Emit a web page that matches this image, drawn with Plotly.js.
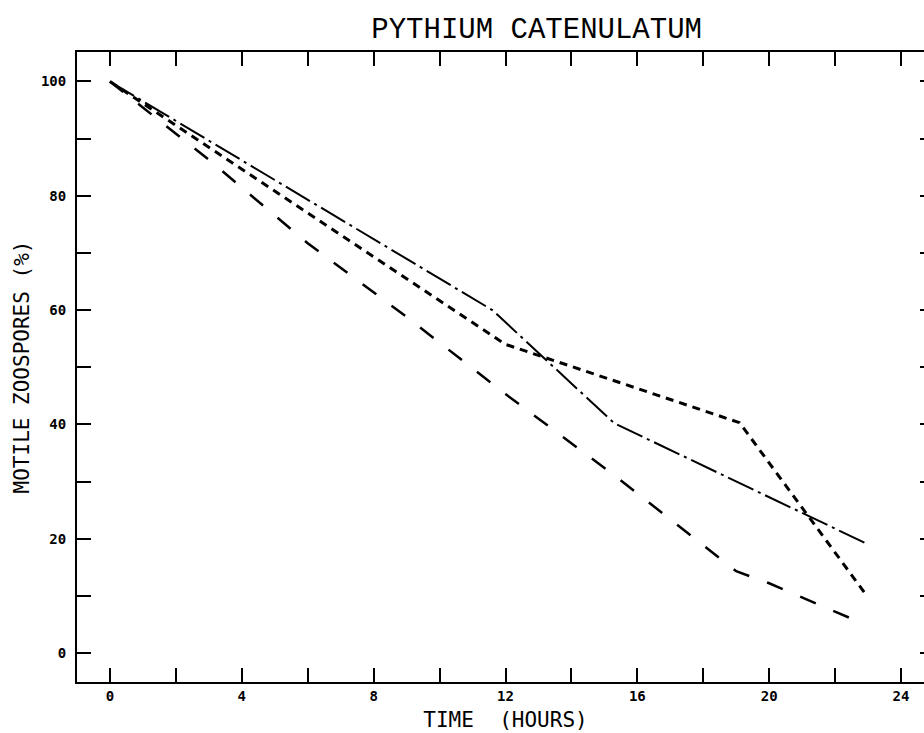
<!DOCTYPE html>
<html>
<head>
<meta charset="utf-8">
<script src="https://cdn.plot.ly/plotly-3.0.1.min.js"></script>
<style>
  html, body { margin: 0; padding: 0; background: #fff; overflow: hidden; }
  #chart { width: 936px; height: 733px; }
</style>
</head>
<body>
<div id="chart"></div>
<script>
// Time (hours) and motile zoospores (%)
const dashDotHours = [0, 11.6, 15.3, 19, 23];
const dashDotPct   = [100, 60, 40.2, 30, 19];

const shortDashHours = [0, 12, 19.1, 22.9];
const shortDashPct   = [100, 54, 40.3, 10.5];

const longDashHours = [0, 3, 6, 9, 12, 15.3, 19, 20, 22.5];
const longDashPct   = [100, 86.3, 71.7, 58.8, 45.3, 31.1, 14.3, 12.2, 6];

const xTickVals = [0, 2, 4, 6, 8, 10, 12, 14, 16, 18, 20, 22, 24];
const xTickText = ['0', '', '4', '', '8', '', '12', '', '16', '', '20', '', '24'];
const yTickVals = [0, 10, 20, 30, 40, 50, 60, 70, 80, 90, 100];
const yTickText = ['0', '', '20', '', '40', '', '60', '', '80', '', '100'];

const titleText = 'PYTHIUM CATENULATUM';
const xTitleText = 'TIME  (HOURS)';
const yTitleText = 'MOTILE ZOOSPORES (%)';

const traces = [
  { x: dashDotHours, y: dashDotPct, mode: 'lines', name: 'a',
    line: { color: '#000', width: 2, dash: '28px,5px,3px,5px' } },
  { x: shortDashHours, y: shortDashPct, mode: 'lines', name: 'b',
    line: { color: '#000', width: 3, dash: '8px,6px' } },
  { x: longDashHours, y: longDashPct, mode: 'lines', name: 'c',
    line: { color: '#000', width: 2.5, dash: '17px,19px' } }
];

const tickFont = { family: 'DejaVu Sans Mono', size: 14, color: '#000', weight: 'bold' };
const titleFont = { family: 'DejaVu Sans Mono', size: 21, color: '#000' };

const layout = {
  width: 936, height: 733,
  margin: { l: 77, r: 2, t: 52, b: 51 },
  paper_bgcolor: '#fff', plot_bgcolor: '#fff',
  showlegend: false,
  title: { text: titleText, font: { family: 'Liberation Mono', size: 29, color: '#000' },
           x: 502 / 936, xanchor: 'center', xref: 'paper',
           y: 1 - 28 / 733, yanchor: 'middle', yref: 'container' },
  xaxis: {
    range: [-1, 25], tickvals: xTickVals, ticktext: xTickText,
    ticks: 'inside', ticklen: 14, tickwidth: 2, tickcolor: '#000',
    showline: true, linewidth: 2, linecolor: '#000', mirror: 'ticks',
    showgrid: false, zeroline: false, tickfont: tickFont, ticklabelstandoff: 0,
    title: { text: xTitleText, font: titleFont, standoff: 10 }
  },
  yaxis: {
    range: [-5.08, 105.16], tickvals: yTickVals, ticktext: yTickText,
    ticks: 'inside', ticklen: 14, tickwidth: 2, tickcolor: '#000',
    showline: true, linewidth: 2, linecolor: '#000', mirror: 'ticks',
    showgrid: false, zeroline: false, tickfont: tickFont, ticklabelstandoff: 6,
    title: { text: yTitleText, font: titleFont, standoff: 6 }
  }
};

Plotly.newPlot('chart', traces, layout, { displayModeBar: false, staticPlot: true });
</script>
</body>
</html>
